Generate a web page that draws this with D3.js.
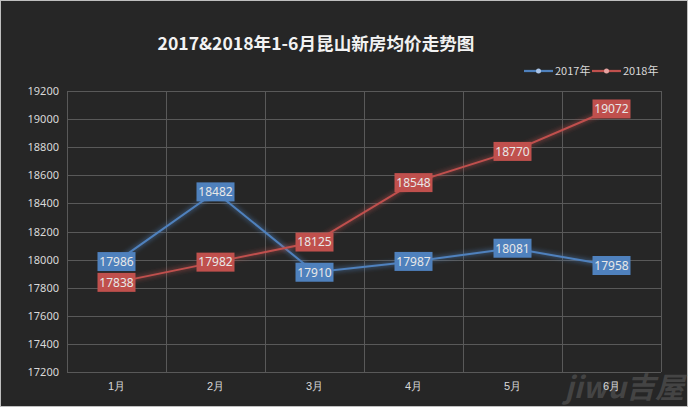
<!DOCTYPE html>
<html>
<head>
<meta charset="utf-8">
<script src="https://cdn.jsdelivr.net/npm/d3@7"></script>
<style>
  html, body { margin: 0; padding: 0; background: #262626; }
  svg { display: block; font-family: "Noto Sans CJK SC", "Noto Sans", sans-serif; }
</style>
</head>
<body>
<svg id="chart"></svg>
<script>
const months = ['1月', '2月', '3月', '4月', '5月', '6月'];
const price2017 = [17986, 18482, 17910, 17987, 18081, 17958];
const price2018 = [17838, 17982, 18125, 18548, 18770, 19072];
const yTicks = [17200, 17400, 17600, 17800, 18000, 18200, 18400, 18600, 18800, 19000, 19200];
const seriesNames = ['2017年', '2018年'];

const width = 688;
const height = 407;
const margin = { top: 91, right: 27, bottom: 35, left: 67 };
const colors = ['#4f81bd', '#c0504d'];

const svg = d3.select('#chart')
  .attr('width', width)
  .attr('height', height);

svg.append('rect')
  .attr('x', 0.5).attr('y', 0.5)
  .attr('width', width - 1).attr('height', height - 1)
  .attr('fill', '#262626')
  .attr('stroke', '#bfbfbf');

// glow filter for the lines
const defs = svg.append('defs');
const glow = defs.append('filter').attr('id', 'glow')
  .attr('x', '-10%').attr('y', '-30%').attr('width', '120%').attr('height', '160%');
glow.append('feGaussianBlur').attr('in', 'SourceGraphic').attr('stdDeviation', 2.5).attr('result', 'blur');
const merge = glow.append('feMerge');
merge.append('feMergeNode').attr('in', 'blur');
merge.append('feMergeNode').attr('in', 'SourceGraphic');

const x = d3.scaleBand()
  .domain(months)
  .range([margin.left, width - margin.right]);

const y = d3.scaleLinear()
  .domain([17200, 19200])
  .range([height - margin.bottom, margin.top]);

// watermark (sits under everything)
svg.append('text')
  .attr('x', 684).attr('y', 398)
  .attr('font-size', 29)
  .attr('font-weight', 'bold')
  .attr('font-style', 'italic')
  .attr('fill', '#444')
  .attr('text-anchor', 'end')
  .text('jiwu吉屋');

// horizontal grid
svg.append('g')
  .selectAll('line')
  .data(yTicks)
  .join('line')
  .attr('x1', margin.left)
  .attr('x2', width - margin.right)
  .attr('y1', d => Math.round(y(d)) + 0.5)
  .attr('y2', d => Math.round(y(d)) + 0.5)
  .attr('stroke', '#595959');

// vertical grid (band edges)
const edges = months.map(m => x(m)).concat([x.range()[1]]);
svg.append('g')
  .selectAll('line')
  .data(edges)
  .join('line')
  .attr('x1', d => Math.round(d) + 0.5)
  .attr('x2', d => Math.round(d) + 0.5)
  .attr('y1', margin.top)
  .attr('y2', height - margin.bottom)
  .attr('stroke', '#595959');

// y axis labels
const yAxis = d3.axisLeft(y).tickValues(yTicks).tickFormat(d3.format('d')).tickSize(0).tickPadding(8);
const gy = svg.append('g')
  .attr('transform', `translate(${margin.left}, 0)`)
  .call(yAxis);
gy.select('.domain').remove();
gy.selectAll('text')
  .attr('fill', '#d9d9d9')
  .attr('font-size', 11)
  .attr('font-family', '"Noto Sans", sans-serif');

// x axis labels
const xAxis = d3.axisBottom(x).tickSize(0).tickPadding(10);
const gx = svg.append('g')
  .attr('transform', `translate(0, ${height - margin.bottom})`)
  .call(xAxis);
gx.select('.domain').remove();
gx.selectAll('text')
  .attr('fill', '#d9d9d9')
  .attr('font-size', 11);

// lines
const line = d3.line()
  .x((d, i) => x(months[i]) + x.bandwidth() / 2)
  .y(d => y(d));

[price2017, price2018].forEach((vals, s) => {
  svg.append('path')
    .datum(vals)
    .attr('fill', 'none')
    .attr('stroke', colors[s])
    .attr('stroke-width', 2)
    .attr('filter', 'url(#glow)')
    .attr('d', line);
});

// data labels
[price2017, price2018].forEach((vals, s) => {
  const g = svg.append('g');
  const lab = g.selectAll('g')
    .data(vals)
    .join('g')
    .attr('transform', (d, i) => `translate(${x(months[i]) + x.bandwidth() / 2}, ${y(d)})`);
  lab.append('rect')
    .attr('x', -19).attr('y', -9.5)
    .attr('width', 38).attr('height', 19)
    .attr('fill', colors[s]);
  lab.append('text')
    .attr('text-anchor', 'middle')
    .attr('dy', '0.36em')
    .attr('font-size', 12)
    .attr('font-family', '"Noto Sans", sans-serif')
    .attr('fill', '#e8e8e8')
    .text(d => d);
});

// title
svg.append('text')
  .attr('x', 316).attr('y', 50)
  .attr('text-anchor', 'middle')
  .attr('font-size', 17.6)
  .attr('font-weight', 'bold')
  .attr('fill', '#f2f2f2')
  .text('2017&2018年1-6月昆山新房均价走势图');

// legend
const legendX = [524, 592];
seriesNames.forEach((name, s) => {
  const lg = svg.append('g').attr('transform', `translate(${legendX[s]}, 71)`);
  lg.append('line')
    .attr('x1', 0).attr('x2', 29)
    .attr('stroke', colors[s]).attr('stroke-width', 2.25);
  lg.append('circle')
    .attr('cx', 14.5).attr('r', 2.5)
    .attr('fill', s === 0 ? '#a9c4e8' : '#e6a3a1');
  lg.append('text')
    .attr('x', 31).attr('dy', '0.36em')
    .attr('font-size', 11)
    .attr('fill', '#d9d9d9')
    .text(name);
});
</script>
</body>
</html>
